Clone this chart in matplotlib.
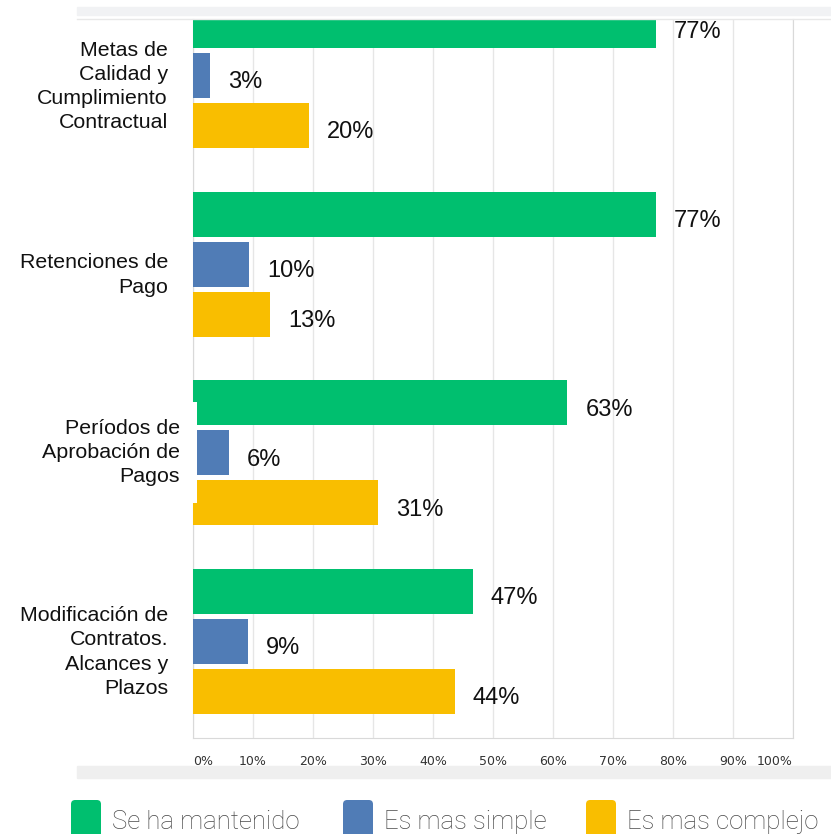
import matplotlib
matplotlib.use('Agg')
import matplotlib.pyplot as plt
from matplotlib.patches import FancyBboxPatch, Rectangle
from matplotlib.lines import Line2D
import numpy as np

# 数据
categorias = ['Metas de\nCalidad y\nCumplimiento\nContractual',
              'Retenciones de\nPago',
              'Períodos de\nAprobación de\nPagos',
              'Modificación de\nContratos.\nAlcances y\nPlazos']
series = ['Se ha mantenido', 'Es mas simple', 'Es mas complejo']
mantenido = [77.2, 77.2, 62.4, 46.6]
simple = [2.9, 9.4, 6.0, 9.2]
complejo = [19.3, 12.8, 30.9, 43.6]
etiq_mantenido = ['77%', '77%', '63%', '47%']
etiq_simple = ['3%', '10%', '6%', '9%']
etiq_complejo = ['20%', '13%', '31%', '44%']
x_ticks = [0, 10, 20, 30, 40, 50, 60, 70, 80, 90, 100]
x_labels = ['0%', '10%', '20%', '30%', '40%', '50%', '60%', '70%', '80%', '90%', '100%']

colores = ['#00BF6F', '#507CB6', '#F9BE00']

W, H = 831, 834


def fx(x):
    return x / W


def fy(y):
    return 1 - y / H


fig = plt.figure(figsize=(W / 100, H / 100), dpi=100)
fig.patch.set_facecolor('white')

# 顶部和底部的灰色条
fig.add_artist(Rectangle((fx(77), fy(15)), (W - 77) / W, 8 / H, color='#f1f2f4',
                         transform=fig.transFigure, zorder=0))
fig.add_artist(Line2D([fx(77), 1], [fy(18.5)] * 2, color='#e8e8e8', lw=1,
                      transform=fig.transFigure))
fig.add_artist(Rectangle((fx(77), fy(778)), (W - 77) / W, 12 / H, color='#efefef',
                         transform=fig.transFigure, zorder=0))

ax = fig.add_axes([fx(193), fy(738), (793 - 193) / W, (738 - 19) / H])

PITCH = 1.0
BAR_H = 0.9
GROUP_GAP = 3.77
centros = np.arange(len(categorias)) * GROUP_GAP

valores = [mantenido, simple, complejo]
etiquetas = [etiq_mantenido, etiq_simple, etiq_complejo]
for k, (vals, labs, c) in enumerate(zip(valores, etiquetas, colores)):
    ys = centros + (k - 1) * PITCH
    ax.barh(ys, vals, height=BAR_H, color=c, zorder=3)
    for v, y, lab in zip(vals, ys, labs):
        ax.annotate(lab, xy=(v, y), xytext=(18, -7), textcoords='offset pixels',
                    ha='left', va='center', fontsize=17, color='#111111',
                    family=['Liberation Sans', 'DejaVu Sans'], zorder=4)

ax.set_xlim(0, 100)
ax.set_ylim((738 - 75.5) / 50, (19 - 75.5) / 50)
ax.set_yticks([])
ax.set_xticks(x_ticks)
ax.set_xticklabels(x_labels, fontsize=9, color='#333333')
ax.tick_params(axis='x', length=0, pad=12)
tl = ax.get_xticklabels()
tl[0].set_ha('left')
tl[-1].set_ha('right')
ax.xaxis.grid(True, color='#e6e6e6', lw=1)
ax.set_axisbelow(True)
ax.spines['top'].set_visible(False)
for s in ['left', 'right', 'bottom']:
    ax.spines[s].set_color('#d9d9d9')

# 类别标签
for i, (cat, yc) in enumerate(zip(categorias, centros)):
    dx = -13 if i == 2 else -25
    dy = 0.0 if i == 2 else 0.22
    t = ax.annotate(cat, xy=(0, yc + dy), xycoords=('axes fraction', 'data'),
                    xytext=(dx, 0), textcoords='offset pixels', ha='right',
                    va='center', fontsize=15.4, color='#111111',
                    family=['Liberation Sans', 'DejaVu Sans'], zorder=6,
                    linespacing=1.35)
    if i == 2:
        t.set_bbox(dict(boxstyle='square,pad=0.8', fc='white', ec='none'))

# 图例
leg_pos = [(71, 112), (343, 384), (586, 627)]
for (xs, xt), c, name in zip(leg_pos, colores, series):
    fig.add_artist(FancyBboxPatch((fx(xs), fy(838)), 30 / W, 38 / H,
                                  boxstyle='round,pad=0,rounding_size=0.005',
                                  fc=c, ec='none', transform=fig.transFigure))
    fig.text(fx(xt), fy(822), name, fontsize=18.5, color='#4a4a4a', va='center',
             ha='left', family=['Roboto', 'DejaVu Sans'], fontweight='light')

fig.savefig('out.png', dpi=100)
